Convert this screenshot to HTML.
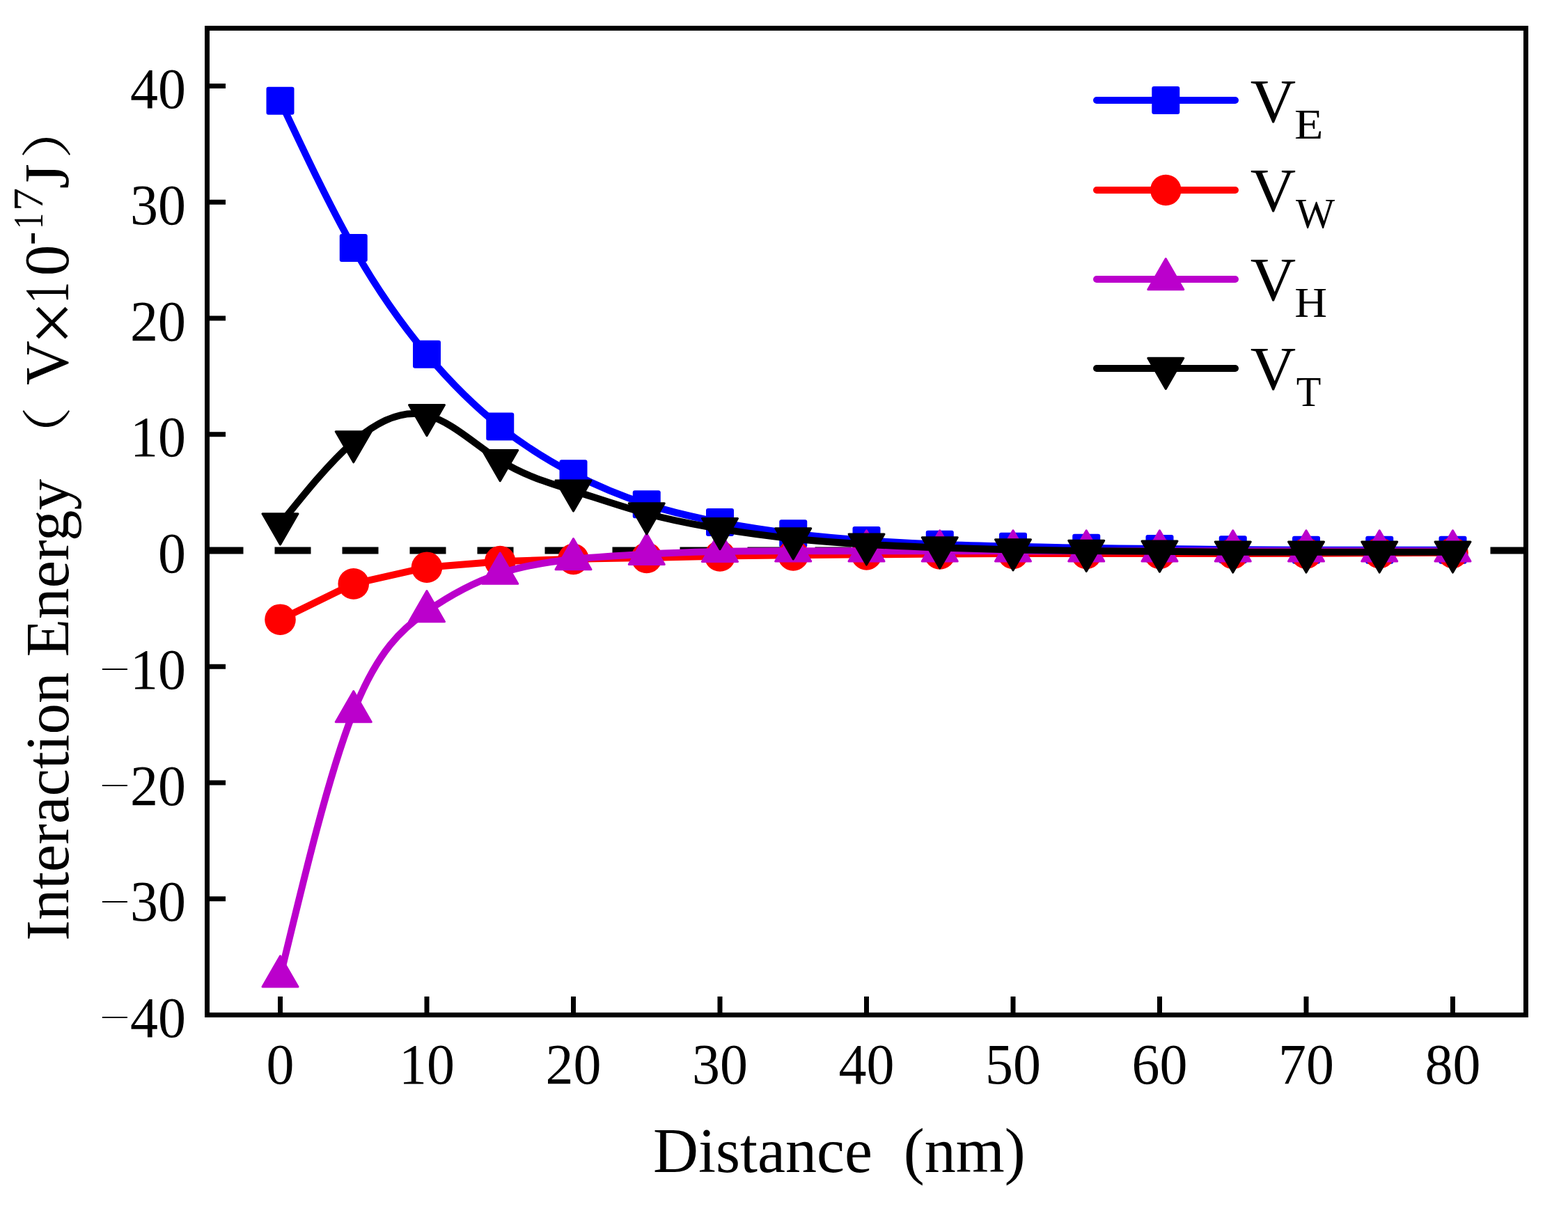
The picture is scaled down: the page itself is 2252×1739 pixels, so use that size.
<!DOCTYPE html><html><head><meta charset="utf-8"><style>html,body{margin:0;padding:0;background:#fff;}svg{display:block;}</style></head><body><svg width="2252" height="1739" viewBox="0 0 2252 1739">
<rect width="2252" height="1739" fill="#fff"/>
<defs><clipPath id="pa"><rect x="297.5" y="40.5" width="1894" height="1417"/></clipPath></defs>
<line x1="297.5" y1="790.50" x2="2191.5" y2="790.50" stroke="#000" stroke-width="10" stroke-dasharray="52 45" clip-path="url(#pa)"/>
<g clip-path="url(#pa)">
<path d="M402.50,144.84 C437.58,219.45 472.67,294.06 507.75,355.95 C542.83,417.83 577.92,466.99 613.00,508.69 C648.08,550.39 683.17,584.63 718.25,612.58 C753.33,640.53 788.42,662.18 823.50,680.28 C858.58,698.37 893.67,712.90 928.75,724.13 C963.83,735.36 998.92,743.30 1034.00,749.98 C1069.08,756.66 1104.17,762.10 1139.25,766.32 C1174.33,770.54 1209.42,773.55 1244.50,775.99 C1279.58,778.43 1314.67,780.31 1349.75,781.66 C1384.83,783.01 1419.92,783.84 1455.00,784.66 C1490.08,785.48 1525.17,786.30 1560.25,786.83 C1595.33,787.37 1630.42,787.62 1665.50,788.00 C1700.58,788.37 1735.67,788.86 1770.75,789.17 C1805.83,789.47 1840.92,789.58 1876.00,789.67 C1911.08,789.75 1946.17,789.81 1981.25,789.83 C2016.33,789.86 2051.42,789.84 2086.50,789.83" fill="none" stroke="#0000FF" stroke-width="10" stroke-linejoin="round"/>
<rect x="382.50" y="124.84" width="40" height="40" rx="3" fill="#0000FF"/>
<rect x="487.75" y="335.95" width="40" height="40" rx="3" fill="#0000FF"/>
<rect x="593.00" y="488.69" width="40" height="40" rx="3" fill="#0000FF"/>
<rect x="698.25" y="592.58" width="40" height="40" rx="3" fill="#0000FF"/>
<rect x="803.50" y="660.28" width="40" height="40" rx="3" fill="#0000FF"/>
<rect x="908.75" y="704.13" width="40" height="40" rx="3" fill="#0000FF"/>
<rect x="1014.00" y="729.98" width="40" height="40" rx="3" fill="#0000FF"/>
<rect x="1119.25" y="746.32" width="40" height="40" rx="3" fill="#0000FF"/>
<rect x="1224.50" y="755.99" width="40" height="40" rx="3" fill="#0000FF"/>
<rect x="1329.75" y="761.66" width="40" height="40" rx="3" fill="#0000FF"/>
<rect x="1435.00" y="764.66" width="40" height="40" rx="3" fill="#0000FF"/>
<rect x="1540.25" y="766.83" width="40" height="40" rx="3" fill="#0000FF"/>
<rect x="1645.50" y="768.00" width="40" height="40" rx="3" fill="#0000FF"/>
<rect x="1750.75" y="769.17" width="40" height="40" rx="3" fill="#0000FF"/>
<rect x="1856.00" y="769.67" width="40" height="40" rx="3" fill="#0000FF"/>
<rect x="1961.25" y="769.83" width="40" height="40" rx="3" fill="#0000FF"/>
<rect x="2066.50" y="769.83" width="40" height="40" rx="3" fill="#0000FF"/>
<path d="M402.50,889.72 L507.75,838.36 L613.00,814.68 L718.25,806.17 L823.50,802.84 L928.75,801.01 L1034.00,798.50 L1139.25,797.34 L1244.50,796.34 L1349.75,795.50 L1455.00,795.00 L1560.25,795.00 L1665.50,795.00 L1770.75,795.00 L1876.00,794.67 L1981.25,794.17 L2086.50,793.84" fill="none" stroke="#FF0000" stroke-width="10" stroke-linejoin="round"/>
<circle cx="402.50" cy="889.72" r="22.3" fill="#FF0000"/>
<circle cx="507.75" cy="838.36" r="22.3" fill="#FF0000"/>
<circle cx="613.00" cy="814.68" r="22.3" fill="#FF0000"/>
<circle cx="718.25" cy="806.17" r="22.3" fill="#FF0000"/>
<circle cx="823.50" cy="802.84" r="22.3" fill="#FF0000"/>
<circle cx="928.75" cy="801.01" r="22.3" fill="#FF0000"/>
<circle cx="1034.00" cy="798.50" r="22.3" fill="#FF0000"/>
<circle cx="1139.25" cy="797.34" r="22.3" fill="#FF0000"/>
<circle cx="1244.50" cy="796.34" r="22.3" fill="#FF0000"/>
<circle cx="1349.75" cy="795.50" r="22.3" fill="#FF0000"/>
<circle cx="1455.00" cy="795.00" r="22.3" fill="#FF0000"/>
<circle cx="1560.25" cy="795.00" r="22.3" fill="#FF0000"/>
<circle cx="1665.50" cy="795.00" r="22.3" fill="#FF0000"/>
<circle cx="1770.75" cy="795.00" r="22.3" fill="#FF0000"/>
<circle cx="1876.00" cy="794.67" r="22.3" fill="#FF0000"/>
<circle cx="1981.25" cy="794.17" r="22.3" fill="#FF0000"/>
<circle cx="2086.50" cy="793.84" r="22.3" fill="#FF0000"/>
<path d="M402.50,1402.31 C437.58,1256.34 472.67,1110.38 507.75,1021.95 C542.83,933.52 577.92,902.61 613.00,878.04 C648.08,853.47 683.17,835.23 718.25,823.52 C753.33,811.80 788.42,806.61 823.50,803.01 C858.58,799.41 893.67,797.40 928.75,795.67 C963.83,793.94 998.92,792.49 1034.00,791.83 C1069.08,791.18 1104.17,791.33 1139.25,791.33 C1174.33,791.34 1209.42,791.21 1244.50,791.17 C1279.58,791.12 1314.67,791.15 1349.75,791.17 C1384.83,791.18 1419.92,791.17 1455.00,791.17 C1490.08,791.16 1525.17,791.17 1560.25,791.17 C1595.33,791.17 1630.42,791.17 1665.50,791.17 C1700.58,791.17 1735.67,791.17 1770.75,791.17 C1805.83,791.17 1840.92,791.17 1876.00,791.17 C1911.08,791.17 1946.17,791.17 1981.25,791.17 C2016.33,791.17 2051.42,791.17 2086.50,791.17" fill="none" stroke="#BB00CC" stroke-width="10" stroke-linejoin="round"/>
<polygon points="402.50,1372.86 377.00,1417.03 428.00,1417.03" fill="#BB00CC" stroke="#BB00CC" stroke-width="3" stroke-linejoin="round"/>
<polygon points="507.75,992.50 482.25,1036.67 533.25,1036.67" fill="#BB00CC" stroke="#BB00CC" stroke-width="3" stroke-linejoin="round"/>
<polygon points="613.00,848.60 587.50,892.77 638.50,892.77" fill="#BB00CC" stroke="#BB00CC" stroke-width="3" stroke-linejoin="round"/>
<polygon points="718.25,794.07 692.75,838.24 743.75,838.24" fill="#BB00CC" stroke="#BB00CC" stroke-width="3" stroke-linejoin="round"/>
<polygon points="823.50,773.56 798.00,817.73 849.00,817.73" fill="#BB00CC" stroke="#BB00CC" stroke-width="3" stroke-linejoin="round"/>
<polygon points="928.75,766.22 903.25,810.39 954.25,810.39" fill="#BB00CC" stroke="#BB00CC" stroke-width="3" stroke-linejoin="round"/>
<polygon points="1034.00,762.39 1008.50,806.56 1059.50,806.56" fill="#BB00CC" stroke="#BB00CC" stroke-width="3" stroke-linejoin="round"/>
<polygon points="1139.25,761.89 1113.75,806.06 1164.75,806.06" fill="#BB00CC" stroke="#BB00CC" stroke-width="3" stroke-linejoin="round"/>
<polygon points="1244.50,761.72 1219.00,805.89 1270.00,805.89" fill="#BB00CC" stroke="#BB00CC" stroke-width="3" stroke-linejoin="round"/>
<polygon points="1349.75,761.72 1324.25,805.89 1375.25,805.89" fill="#BB00CC" stroke="#BB00CC" stroke-width="3" stroke-linejoin="round"/>
<polygon points="1455.00,761.72 1429.50,805.89 1480.50,805.89" fill="#BB00CC" stroke="#BB00CC" stroke-width="3" stroke-linejoin="round"/>
<polygon points="1560.25,761.72 1534.75,805.89 1585.75,805.89" fill="#BB00CC" stroke="#BB00CC" stroke-width="3" stroke-linejoin="round"/>
<polygon points="1665.50,761.72 1640.00,805.89 1691.00,805.89" fill="#BB00CC" stroke="#BB00CC" stroke-width="3" stroke-linejoin="round"/>
<polygon points="1770.75,761.72 1745.25,805.89 1796.25,805.89" fill="#BB00CC" stroke="#BB00CC" stroke-width="3" stroke-linejoin="round"/>
<polygon points="1876.00,761.72 1850.50,805.89 1901.50,805.89" fill="#BB00CC" stroke="#BB00CC" stroke-width="3" stroke-linejoin="round"/>
<polygon points="1981.25,761.72 1955.75,805.89 2006.75,805.89" fill="#BB00CC" stroke="#BB00CC" stroke-width="3" stroke-linejoin="round"/>
<polygon points="2086.50,761.72 2061.00,805.89 2112.00,805.89" fill="#BB00CC" stroke="#BB00CC" stroke-width="3" stroke-linejoin="round"/>
<path d="M402.50,752.48 C437.58,708.59 472.67,664.70 507.75,634.42 C542.83,604.15 577.92,587.49 613.00,596.24 C648.08,604.99 683.17,639.15 718.25,661.27 C753.33,683.39 788.42,693.47 823.50,704.62 C858.58,715.78 893.67,728.02 928.75,737.47 C963.83,746.93 998.92,753.59 1034.00,759.32 C1069.08,765.05 1104.17,769.84 1139.25,773.49 C1174.33,777.14 1209.42,779.64 1244.50,781.66 C1279.58,783.68 1314.67,785.23 1349.75,786.50 C1384.83,787.77 1419.92,788.77 1455.00,789.50 C1490.08,790.23 1525.17,790.67 1560.25,791.00 C1595.33,791.33 1630.42,791.53 1665.50,791.83 C1700.58,792.13 1735.67,792.52 1770.75,792.67 C1805.83,792.81 1840.92,792.71 1876.00,792.67 C1911.08,792.63 1946.17,792.66 1981.25,792.67 C2016.33,792.68 2051.42,792.67 2086.50,792.67" fill="none" stroke="#000000" stroke-width="10" stroke-linejoin="round"/>
<polygon points="402.50,781.93 377.00,737.76 428.00,737.76" fill="#000000" stroke="#000000" stroke-width="3" stroke-linejoin="round"/>
<polygon points="507.75,663.87 482.25,619.70 533.25,619.70" fill="#000000" stroke="#000000" stroke-width="3" stroke-linejoin="round"/>
<polygon points="613.00,625.68 587.50,581.51 638.50,581.51" fill="#000000" stroke="#000000" stroke-width="3" stroke-linejoin="round"/>
<polygon points="718.25,690.71 692.75,646.55 743.75,646.55" fill="#000000" stroke="#000000" stroke-width="3" stroke-linejoin="round"/>
<polygon points="823.50,734.07 798.00,689.90 849.00,689.90" fill="#000000" stroke="#000000" stroke-width="3" stroke-linejoin="round"/>
<polygon points="928.75,766.92 903.25,722.75 954.25,722.75" fill="#000000" stroke="#000000" stroke-width="3" stroke-linejoin="round"/>
<polygon points="1034.00,788.76 1008.50,744.60 1059.50,744.60" fill="#000000" stroke="#000000" stroke-width="3" stroke-linejoin="round"/>
<polygon points="1139.25,802.94 1113.75,758.77 1164.75,758.77" fill="#000000" stroke="#000000" stroke-width="3" stroke-linejoin="round"/>
<polygon points="1244.50,811.11 1219.00,766.94 1270.00,766.94" fill="#000000" stroke="#000000" stroke-width="3" stroke-linejoin="round"/>
<polygon points="1349.75,815.94 1324.25,771.78 1375.25,771.78" fill="#000000" stroke="#000000" stroke-width="3" stroke-linejoin="round"/>
<polygon points="1455.00,818.94 1429.50,774.78 1480.50,774.78" fill="#000000" stroke="#000000" stroke-width="3" stroke-linejoin="round"/>
<polygon points="1560.25,820.45 1534.75,776.28 1585.75,776.28" fill="#000000" stroke="#000000" stroke-width="3" stroke-linejoin="round"/>
<polygon points="1665.50,821.28 1640.00,777.11 1691.00,777.11" fill="#000000" stroke="#000000" stroke-width="3" stroke-linejoin="round"/>
<polygon points="1770.75,822.11 1745.25,777.95 1796.25,777.95" fill="#000000" stroke="#000000" stroke-width="3" stroke-linejoin="round"/>
<polygon points="1876.00,822.11 1850.50,777.95 1901.50,777.95" fill="#000000" stroke="#000000" stroke-width="3" stroke-linejoin="round"/>
<polygon points="1981.25,822.11 1955.75,777.95 2006.75,777.95" fill="#000000" stroke="#000000" stroke-width="3" stroke-linejoin="round"/>
<polygon points="2086.50,822.11 2061.00,777.95 2112.00,777.95" fill="#000000" stroke="#000000" stroke-width="3" stroke-linejoin="round"/>
</g>
<rect x="297.5" y="40.5" width="1894" height="1417" fill="none" stroke="#000" stroke-width="7"/>
<path d="M301,1290.75H324 M301,1124.00H324 M301,957.25H324 M301,790.50H324 M301,623.75H324 M301,457.00H324 M301,290.25H324 M301,123.50H324 M402.50,1454V1431 M613.00,1454V1431 M823.50,1454V1431 M1034.00,1454V1431 M1244.50,1454V1431 M1455.00,1454V1431 M1665.50,1454V1431 M1876.00,1454V1431 M2086.50,1454V1431" stroke="#000" stroke-width="7" fill="none"/>
<g font-family='"Liberation Serif", serif' font-size="80" fill="#000">
<text transform="translate(267,1489.10) scale(1,1.037)" text-anchor="end">40</text>
<text transform="translate(143,1474.38) scale(0.97,0.5)">−</text>
<text transform="translate(267,1322.35) scale(1,1.037)" text-anchor="end">30</text>
<text transform="translate(143,1307.63) scale(0.97,0.5)">−</text>
<text transform="translate(267,1155.60) scale(1,1.037)" text-anchor="end">20</text>
<text transform="translate(143,1140.88) scale(0.97,0.5)">−</text>
<text transform="translate(267,988.85) scale(1,1.037)" text-anchor="end">10</text>
<text transform="translate(143,974.13) scale(0.97,0.5)">−</text>
<text transform="translate(267,822.10) scale(1,1.037)" text-anchor="end">0</text>
<text transform="translate(267,655.35) scale(1,1.037)" text-anchor="end">10</text>
<text transform="translate(267,488.60) scale(1,1.037)" text-anchor="end">20</text>
<text transform="translate(267,321.85) scale(1,1.037)" text-anchor="end">30</text>
<text transform="translate(267,155.10) scale(1,1.037)" text-anchor="end">40</text>
<text transform="translate(402.50,1556.2) scale(1,1.037)" text-anchor="middle">0</text>
<text transform="translate(613.00,1556.2) scale(1,1.037)" text-anchor="middle">10</text>
<text transform="translate(823.50,1556.2) scale(1,1.037)" text-anchor="middle">20</text>
<text transform="translate(1034.00,1556.2) scale(1,1.037)" text-anchor="middle">30</text>
<text transform="translate(1244.50,1556.2) scale(1,1.037)" text-anchor="middle">40</text>
<text transform="translate(1455.00,1556.2) scale(1,1.037)" text-anchor="middle">50</text>
<text transform="translate(1665.50,1556.2) scale(1,1.037)" text-anchor="middle">60</text>
<text transform="translate(1876.00,1556.2) scale(1,1.037)" text-anchor="middle">70</text>
<text transform="translate(2086.50,1556.2) scale(1,1.037)" text-anchor="middle">80</text>
</g>
<text x="938" y="1683" font-family='"Liberation Serif", serif' font-size="90" xml:space="preserve">Distance  (nm)</text>
<text transform="translate(98,1351) rotate(-90)" font-family='"Liberation Serif", serif' font-size="89" id="ie">Interaction Energy</text>
<text transform="translate(93.36,667.63) rotate(-90) scale(0.8392,0.7201)" font-family='"Liberation Serif", "Noto Serif CJK SC", serif' font-size="100">（</text>
<text transform="translate(97.45,552.89) rotate(-90) scale(0.8818,0.8926)" font-family='"Liberation Serif", serif' font-size="100">V</text>
<text transform="translate(112.33,495.27) rotate(-90) scale(1.1211,1.1271)" font-family='"Liberation Serif", serif' font-size="100">×</text>
<text transform="translate(97.90,435.87) rotate(-90) scale(0.6221,0.9089)" font-family='"Liberation Serif", serif' font-size="100">1</text>
<text transform="translate(98.11,396.20) rotate(-90) scale(0.8919,0.9069)" font-family='"Liberation Serif", serif' font-size="100">0</text>
<text transform="translate(63.20,351.80) rotate(-90) scale(0.5659,0.6559)" font-family='"Liberation Serif", serif' font-size="100">-</text>
<text transform="translate(61.20,328.79) rotate(-90) scale(0.4545,0.6165)" font-family='"Liberation Serif", serif' font-size="100">1</text>
<text transform="translate(60.90,303.06) rotate(-90) scale(0.6613,0.6139)" font-family='"Liberation Serif", serif' font-size="100">7</text>
<text transform="translate(98.12,271.15) rotate(-90) scale(0.9275,0.9044)" font-family='"Liberation Serif", serif' font-size="100">J</text>
<text transform="translate(93.50,228.43) rotate(-90) scale(0.8776,0.7382)" font-family='"Liberation Serif", "Noto Serif CJK SC", serif' font-size="100">）</text>
<line x1="1575" y1="144" x2="1774" y2="144" stroke="#0000FF" stroke-width="10" stroke-linecap="round"/>
<rect x="1654.30" y="124.00" width="40" height="40" rx="3" fill="#0000FF"/>
<text transform="translate(1795.78,174.64) scale(0.9061,0.8994)" font-family='"Liberation Serif", serif' font-size="100">V</text>
<text transform="translate(1858.95,199.00) scale(0.6783,0.6124)" font-family='"Liberation Serif", serif' font-size="100">E</text>
<line x1="1575" y1="273" x2="1774" y2="273" stroke="#FF0000" stroke-width="10" stroke-linecap="round"/>
<circle cx="1674.30" cy="273.00" r="22.3" fill="#FF0000"/>
<text transform="translate(1795.78,302.64) scale(0.9061,0.8994)" font-family='"Liberation Serif", serif' font-size="100">V</text>
<text transform="translate(1860.94,326.58) scale(0.5952,0.6045)" font-family='"Liberation Serif", serif' font-size="100">W</text>
<line x1="1575" y1="401" x2="1774" y2="401" stroke="#BB00CC" stroke-width="10" stroke-linecap="round"/>
<polygon points="1674.30,371.56 1648.80,415.72 1699.80,415.72" fill="#BB00CC" stroke="#BB00CC" stroke-width="3" stroke-linejoin="round"/>
<text transform="translate(1795.78,430.64) scale(0.9061,0.8994)" font-family='"Liberation Serif", serif' font-size="100">V</text>
<text transform="translate(1859.13,454.90) scale(0.6490,0.6048)" font-family='"Liberation Serif", serif' font-size="100">H</text>
<line x1="1575" y1="529" x2="1774" y2="529" stroke="#000000" stroke-width="10" stroke-linecap="round"/>
<polygon points="1674.30,558.44 1648.80,514.28 1699.80,514.28" fill="#000000" stroke="#000000" stroke-width="3" stroke-linejoin="round"/>
<text transform="translate(1795.78,558.64) scale(0.9061,0.8994)" font-family='"Liberation Serif", serif' font-size="100">V</text>
<text transform="translate(1861.65,582.80) scale(0.5832,0.6063)" font-family='"Liberation Serif", serif' font-size="100">T</text>
</svg></body></html>
